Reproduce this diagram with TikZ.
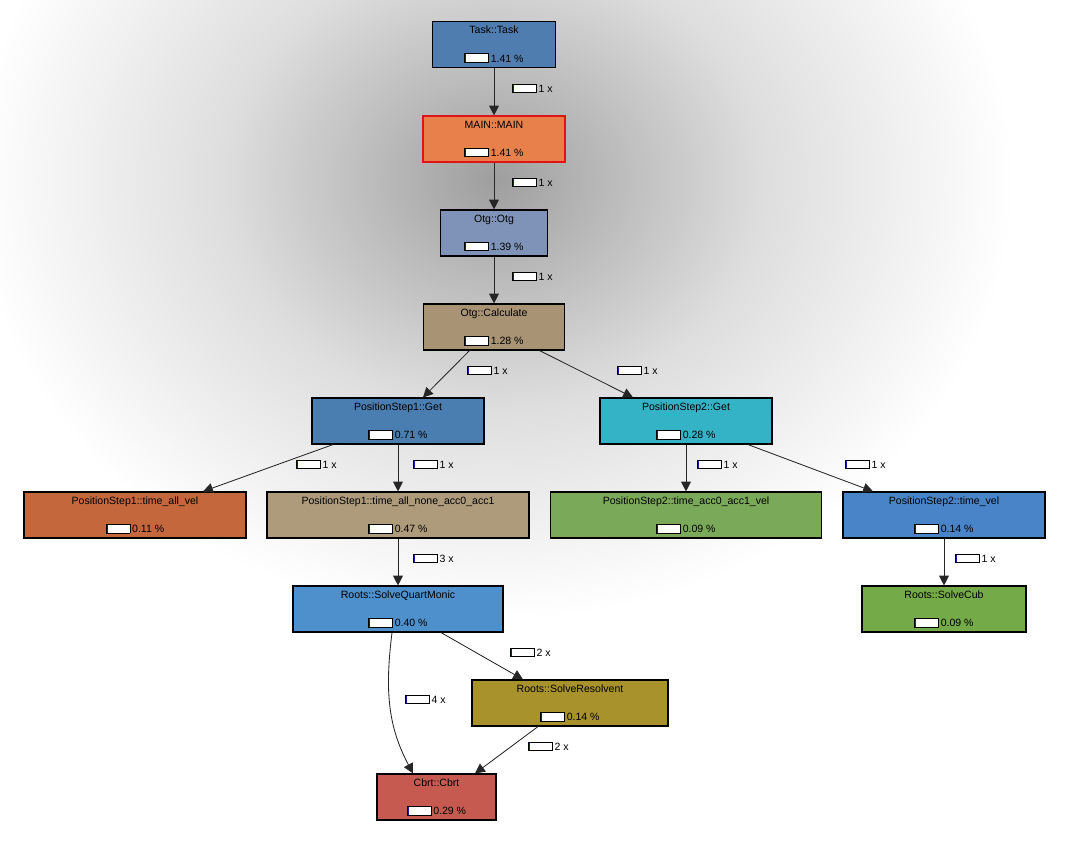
\documentclass[tikz,border=0pt]{standalone}
\usepackage{fontspec}
\setmainfont{Liberation Sans}
\usetikzlibrary{arrows.meta,calc}
\definecolor{taskblue}{HTML}{4F7DB0}
\definecolor{mainorange}{HTML}{E8804C}
\definecolor{mainred}{HTML}{E01414}
\definecolor{otgblue}{HTML}{7F93B8}
\definecolor{calctan}{HTML}{A89375}
\definecolor{psoneblue}{HTML}{4A7DB0}
\definecolor{pstwocyan}{HTML}{35B3C6}
\definecolor{velorange}{HTML}{C4673D}
\definecolor{nonetan}{HTML}{AE9B7C}
\definecolor{accgreen}{HTML}{7BA95A}
\definecolor{velblue}{HTML}{4A84C8}
\definecolor{quartblue}{HTML}{4E90CB}
\definecolor{cubgreen}{HTML}{75AA48}
\definecolor{resolgold}{HTML}{A8922B}
\definecolor{cbrtred}{HTML}{C75A50}
\definecolor{barblue}{HTML}{1A1AA0}
\pgfdeclareradialshading{bgspot}{\pgfpoint{0bp}{0bp}}{color(0bp)=(black!38);color(5bp)=(black!28);color(13bp)=(black!13);color(25bp)=(white);color(50bp)=(white)}
\newcommand{\pbar}{{\setlength{\fboxsep}{0pt}\setlength{\fboxrule}{0.5pt}\fcolorbox{black}{white}{\textcolor{barblue}{\rule{0.9pt}{5.6pt}}\hspace{15.6pt}}}}
\begin{document}
\begin{tikzpicture}[x=0.025cm,y=-0.025cm,
  fn/.style={draw=black, line width=0.8pt, rectangle, minimum height=1.15cm, align=center,
    inner sep=0pt, font=\fontsize{7.5}{9}\selectfont},
  cnt/.style={anchor=west, inner sep=0pt, font=\fontsize{7.5}{9}\selectfont},
  edge/.style={draw=black!85, line width=0.6pt, -{Triangle[length=7pt,width=7pt]}}]
\useasboundingbox (0,0) rectangle (1071,848);
\fill[white] (0,0) rectangle (1071,848);
\shade[shading=bgspot] (494,180) ellipse [x radius=520, y radius=440];
% functions
\node[fn, fill=taskblue, minimum width=3.075cm] (task) at (494,44.5) {Task::Task\\[11pt]\pbar\,1.41 \%};
\node[fn, fill=mainorange, draw=mainred, minimum width=3.55cm] (main) at (494,139) {MAIN::MAIN\\[11pt]\pbar\,1.41 \%};
\node[fn, fill=otgblue, minimum width=2.675cm] (otg) at (494,233) {Otg::Otg\\[11pt]\pbar\,1.39 \%};
\node[fn, fill=calctan, minimum width=3.525cm] (calc) at (494,327) {Otg::Calculate\\[11pt]\pbar\,1.28 \%};
\node[fn, fill=psoneblue, minimum width=4.3cm] (psone) at (398,421) {PositionStep1::Get\\[11pt]\pbar\,0.71 \%};
\node[fn, fill=pstwocyan, minimum width=4.3cm] (pstwo) at (686,421) {PositionStep2::Get\\[11pt]\pbar\,0.28 \%};
\node[fn, fill=velorange, minimum width=5.55cm] (allvel) at (135,515) {PositionStep1::time\_all\_vel\\[11pt]\pbar\,0.11 \%};
\node[fn, fill=nonetan, minimum width=6.55cm] (allnone) at (398,515) {PositionStep1::time\_all\_none\_acc0\_acc1\\[11pt]\pbar\,0.47 \%};
\node[fn, fill=accgreen, minimum width=6.775cm] (accvel) at (686,515) {PositionStep2::time\_acc0\_acc1\_vel\\[11pt]\pbar\,0.09 \%};
\node[fn, fill=velblue, minimum width=5.05cm] (timevel) at (944,515) {PositionStep2::time\_vel\\[11pt]\pbar\,0.14 \%};
\node[fn, fill=quartblue, minimum width=5.25cm] (quart) at (398,609) {Roots::SolveQuartMonic\\[11pt]\pbar\,0.40 \%};
\node[fn, fill=cubgreen, minimum width=4.1cm] (cub) at (944,609) {Roots::SolveCub\\[11pt]\pbar\,0.09 \%};
\node[fn, fill=resolgold, minimum width=4.9cm] (resol) at (570,703) {Roots::SolveResolvent\\[11pt]\pbar\,0.14 \%};
\node[fn, fill=cbrtred, minimum width=2.975cm] (cbrt) at (436.5,797) {Cbrt::Cbrt\\[11pt]\pbar\,0.29 \%};
% calls
\draw[edge] (task) -- (main);
\draw[edge] (main) -- (otg);
\draw[edge] (otg) -- (calc);
\draw[edge] ($(calc.south)+(-24.5,0)$) -- ($(psone.north)+(25,0)$);
\draw[edge] ($(calc.south)+(45.5,0)$) -- ($(pstwo.north)+(-53,0)$);
\draw[edge] ($(psone.south)+(-65,0)$) -- ($(allvel.north)+(68,0)$);
\draw[edge] (psone) -- (allnone);
\draw[edge] (pstwo) -- (accvel);
\draw[edge] ($(pstwo.south)+(62,0)$) -- ($(timevel.north)+(-71,0)$);
\draw[edge] (allnone) -- (quart);
\draw[edge] (timevel) -- (cub);
\draw[edge] ($(quart.south)+(43,0)$) -- ($(resol.north)+(-47,0)$);
\draw[edge] ($(quart.south)+(-6,0)$) to[out=-97,in=118] ($(cbrt.north)+(-23.5,0)$);
\draw[edge] ($(resol.south)+(-32,0)$) -- ($(cbrt.north)+(38.5,0)$);
% call counts
\node[cnt] (ctask) at (512,88.5) {\pbar\,1 x};
\node[cnt] (cmain) at (512,182.5) {\pbar\,1 x};
\node[cnt] (cotg) at (512,276.5) {\pbar\,1 x};
\node[cnt] (cpsone) at (467,370.5) {\pbar\,1 x};
\node[cnt] (cpstwo) at (617,370.5) {\pbar\,1 x};
\node[cnt] (callvel) at (296,464.5) {\pbar\,1 x};
\node[cnt] (callnone) at (413,464.5) {\pbar\,1 x};
\node[cnt] (caccvel) at (697,464.5) {\pbar\,1 x};
\node[cnt] (ctimevel) at (845,464.5) {\pbar\,1 x};
\node[cnt] (cquart) at (413,558.5) {\pbar\,3 x};
\node[cnt] (ccub) at (955,558.5) {\pbar\,1 x};
\node[cnt] (cresol) at (510,652.5) {\pbar\,2 x};
\node[cnt] (ccbrtq) at (405,699.5) {\pbar\,4 x};
\node[cnt] (ccbrtr) at (528,746.5) {\pbar\,2 x};
\end{tikzpicture}
\end{document}
